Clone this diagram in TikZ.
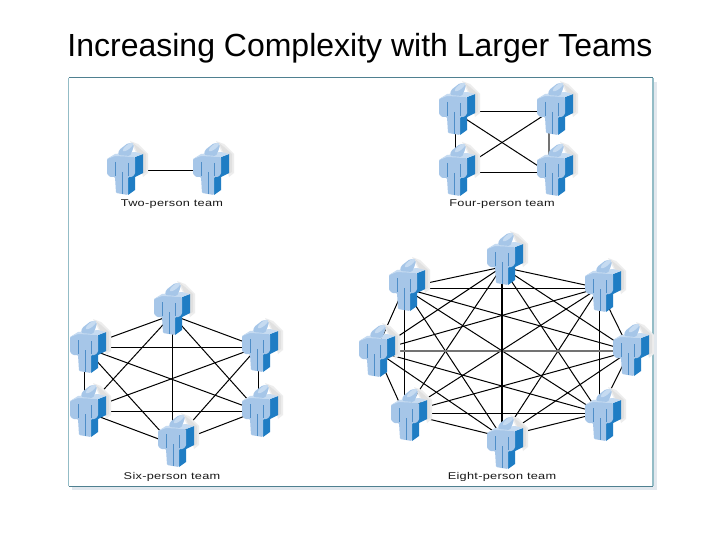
\documentclass[tikz,border=0pt]{standalone}
\usepackage{fontspec}
\setmainfont{Liberation Sans}
\newfontfamily\teamfont[FakeStretch=1.3,LetterSpace=3]{Liberation Sans}
\usetikzlibrary{positioning}
\definecolor{Front}{HTML}{A6C6E8}
\definecolor{Top}{HTML}{C6DBF1}
\definecolor{Side}{HTML}{1F7DC4}
\definecolor{Crease}{HTML}{4F8EC8}
\definecolor{FrameDark}{HTML}{4F8090}
\definecolor{FrameLight}{HTML}{93BCC6}
\definecolor{FrameGlow}{HTML}{E2E8EE}

\tikzset{
  member/.style={inner sep=0pt,minimum size=0pt},
  link/.style={line width=1pt,black},
  teamlabel/.style={font=\teamfont\fontsize{9.8}{11}\selectfont,text=black!90},
  person/.pic={
    % soft shadow behind the figure
    \fill[black!7] (5,-27) -- (13,-24) -- (23,-14) -- (23,5) -- (18,9) -- (14,-10) -- cycle;
    \fill[black!12] (8,-25) -- (13,-21) -- (21,-14) -- (21,4) -- (17,6) -- (14,-12) -- cycle;
    % side of arm and body
    \fill[Side] (10,-11) -- (18,-14) -- (18,5) -- (10,9) -- cycle;
    \fill[Side] (3,9) -- (10,5) -- (10,22) -- (3,27) -- cycle;
    % front
    \fill[Front,rounded corners=1pt] (-18,-9) -- (-10,-13) -- (10,-11) -- (10,6) -- (7,9) -- (3,9)
      -- (3,27) -- (-9,25) -- (-10,9) -- (-15,9) -- (-18,6) -- cycle;
    % shoulders
    \fill[Top] (-18,-9) -- (-10,-14) -- (10,-16) -- (18,-14) -- (10,-11) -- (-10,-12) -- cycle;
    % head
    \fill[Front,rounded corners=1.5pt] (-7,-13) -- (-6,-18) -- (3,-25) -- (9,-24) -- (8,-19) -- (5,-12) -- cycle;
    \fill[Top,rotate around={38:(3,-21)}] (3,-21) ellipse (6.5 and 2.2);
    % creases of arms and legs
    \draw[Crease,line width=1pt] (-10,-6) -- (-10,8);
    \draw[Crease,line width=1pt] (3,-5) -- (3,8);
    \draw[Crease,line width=1pt] (-3,4) -- (-3,26);
  }
}

\begin{document}
\begin{tikzpicture}[x=1pt,y=-1pt]
  \useasboundingbox (0,0) rectangle (720,540);
  \node[font=\fontsize{32}{38}\selectfont] (title) at (360,48) {Increasing Complexity with Larger Teams};

  % panel
  \fill[FrameGlow] (72,82) rectangle (657,490);
  \fill[white] (68.5,78) rectangle (653,486);
  \draw[FrameLight,line width=1pt] (68.5,486) -- (68.5,78);
  \draw[FrameDark,line width=1pt] (68.5,78) -- (653,78);
  \draw[FrameDark,line width=1pt] (68.5,486) -- (653,486);
  \draw[FrameLight,line width=1.5pt] (653,78) -- (653,486);

  % two
  \node[member] (t1) at (125,171) {};
  \node[member] (t2) at (208,171) {};
  \draw[link] (t1) -- (t2);
  \foreach \x/\y in {125/168,211/168}
    \pic at (\x,\y) {person};
  \node[teamlabel] (l2) at (172,204) {Two-person team};

  % four
  \node[member] (f1) at (455,112) {};
  \node[member] (f2) at (549,112) {};
  \node[member] (f3) at (455,173) {};
  \node[member] (f4) at (549,173) {};
  \foreach \a/\b in {f1/f2,f3/f4,f1/f3,f1/f4,f2/f3}
    \draw[link] (\a) -- (\b);
  \draw[link,black!55,line width=1.2pt] (f2) -- (f4);
  \foreach \x/\y in {457/108,555/108,457/169,555/169}
    \pic at (\x,\y) {person};
  \node[teamlabel] (l4) at (502,204) {Four-person team};

  % six
  \node[member] (s1) at (172,315) {};
  \node[member] (s2) at (258,347) {};
  \node[member] (s3) at (258,411) {};
  \node[member] (s4) at (172,444) {};
  \node[member] (s5) at (84,411) {};
  \node[member] (s6) at (84,347) {};
  \foreach \i in {1,...,6}
    \foreach \j in {1,...,6} {
      \ifnum\i<\j \draw[link] (s\i) -- (s\j); \fi
    }
  \foreach \x/\y in {172/308,260/345,260/410,176/440,88/410,88/346}
    \pic at (\x,\y) {person};
  \node[teamlabel] (l6) at (172,477) {Six-person team};

  % eight
  \node[member] (e1) at (502,267) {};
  \node[member] (e2) at (599,288) {};
  \node[member] (e3) at (630,351) {};
  \node[member] (e4) at (599,413) {};
  \node[member] (e5) at (502,437) {};
  \node[member] (e6) at (404,413) {};
  \node[member] (e7) at (376,351) {};
  \node[member] (e8) at (404,288) {};
  \foreach \i in {1,...,8}
    \foreach \j in {1,...,8} {
      \ifnum\i<\j \draw[link] (e\i) -- (e\j); \fi
    }
  \draw[link,black!55,line width=1.4pt] (e3) -- (e7);
  \draw[link,line width=1.3pt] (e1) -- (e5);
  \foreach \x/\y in {505/258,603/285,631/349,603/414,505/442,409/414,377/350,407/284}
    \pic at (\x,\y) {person};
  \node[teamlabel] (l8) at (502,477) {Eight-person team};
\end{tikzpicture}
\end{document}
